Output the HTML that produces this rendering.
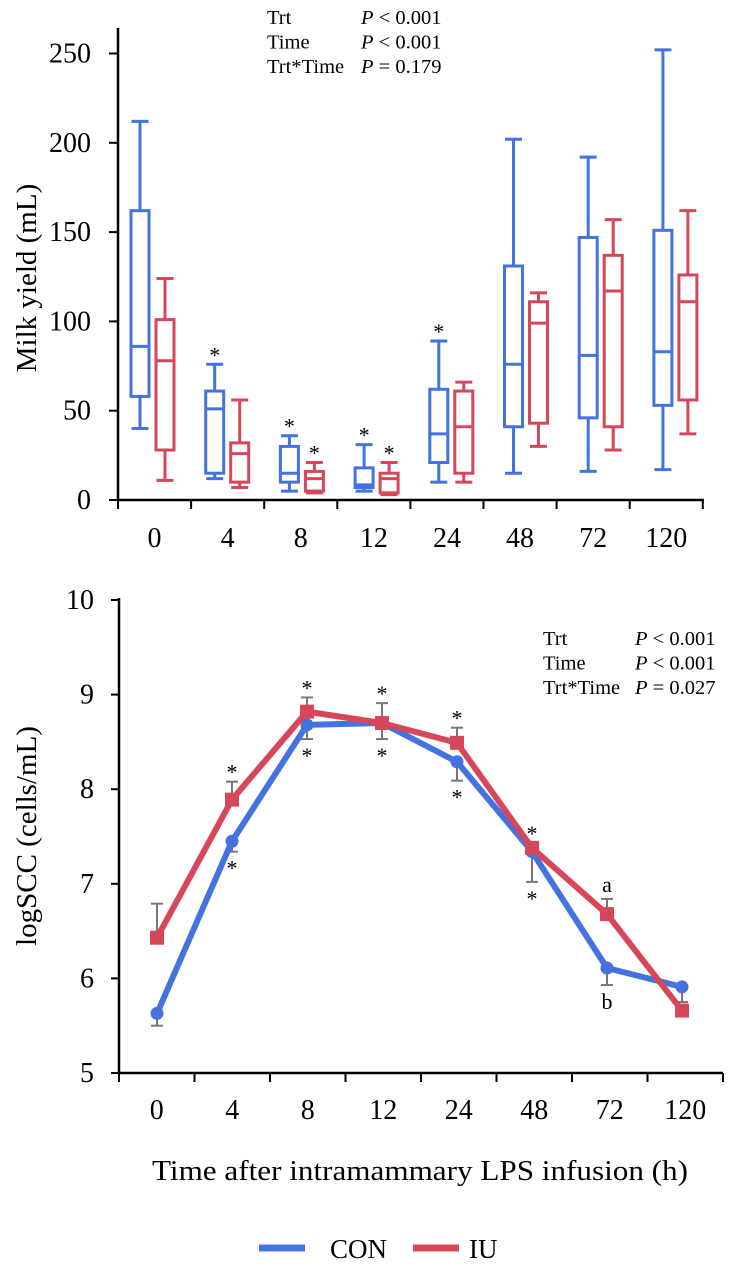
<!DOCTYPE html>
<html><head><meta charset="utf-8"><style>
html,body{margin:0;padding:0;background:#fff;}
svg{display:block;font-family:"Liberation Serif",serif;}
</style></head><body>
<svg id="chart" width="730" height="1267" viewBox="0 0 730 1267" xmlns="http://www.w3.org/2000/svg"></svg>
<script>
// ---- Top chart data (milk yield box plots) ----
const categories = ['0','4','8','12','24','48','72','120'];
const conMax = [212,76,36,31,89,202,192,252];
const conQ3  = [162,61,30,18,62,131,147,151];
const conMed = [86,51,15,8.5,37,76,81,83];
const conQ1  = [58,15,10,7,21,41,46,53];
const conMin = [40,12,5,5,10,15,16,17];
const iuMax = [124,56,21,21,66,116,157,162];
const iuQ3  = [101,32,16,15,61,111,137,126];
const iuMed = [78,26,12,12,41,99,117,111];
const iuQ1  = [28,10,5,4,15,43,41,56];
const iuMin = [11,7,4,3,10,30,28,37];
const conBoxStar = [false,true,true,true,true,false,false,false];
const iuBoxStar  = [false,false,true,true,false,false,false,false];
const yTicksTop = [0,50,100,150,200,250];
// ---- Bottom chart data (logSCC) ----
const conSCC = [5.63,7.45,8.68,8.70,8.29,7.34,6.11,5.91];
const iuSCC  = [6.43,7.89,8.82,8.70,8.49,7.38,6.68,5.66];
const conSem = [0.13,0.11,0.15,0.17,0.20,0.32,0.18,0.16];
const iuSem  = [0.36,0.19,0.15,0.21,0.16,0.05,0.16,0.05];
const conMarks = ['','*','*','*','*','*','b',''];
const iuMarks  = ['','*','*','*','*','*','a',''];
const yTicksBot = [5,6,7,8,9,10];

const BLUE = '#4472DE', RED = '#D6475A', NS = 'http://www.w3.org/2000/svg';
const svg = document.getElementById('chart');
function el(tag, attrs, parent, text){
  const e = document.createElementNS(NS, tag);
  for (const k in attrs) e.setAttribute(k, attrs[k]);
  if (text !== undefined) e.textContent = text;
  (parent || svg).appendChild(e);
  return e;
}
const yTop = v => 500 - v * 1.786;
const xTopTick = i => 118 + i * 73.1;
const xTopCat = i => 118 + (i + 0.5) * 73.1;
const xBox = i => 152.5 + i * 74.7;
const yBot = v => 600 + (10 - v) * 94.6;
const xBotTick = i => 119 + i * 75.5;
const xBotCat = i => 157 + i * 75;

// ===== Top chart =====
const topG = el('g', {});


let a = el('line', {x1:118, y1:28, x2:118, y2:500, stroke:'#000', 'stroke-width':2.5}, topG);
 
a = el('line', {x1:118, y1:500, x2:704, y2:500, stroke:'#000', 'stroke-width':2.5}, topG);
 
yTicksTop.forEach(v => {
  el('line', {x1:109, y1:yTop(v), x2:118, y2:yTop(v), stroke:'#000', 'stroke-width':2}, topG);
  const t = el('text', {x:91, y:yTop(v)+9, 'font-size':28, 'text-anchor':'end'}, topG, String(v));
   
});
for (let i = 0; i <= categories.length; i++) el('line', {x1:xTopTick(i), y1:500, x2:xTopTick(i), y2:509, stroke:'#000', 'stroke-width':2}, topG);
categories.forEach((c, i) => {
  const t = el('text', {x:xTopCat(i), y:547, 'font-size':28, 'text-anchor':'middle'}, topG, c);
   
});
function box(cx, mx, q3, md, q1, mn, color, name){
  const g = el('g', {stroke:color, 'stroke-width':3, fill:'none'}, topG);
   
  el('line', {x1:cx, y1:yTop(mx), x2:cx, y2:yTop(q3)}, g);
  el('line', {x1:cx, y1:yTop(q1), x2:cx, y2:yTop(mn)}, g);
  el('line', {x1:cx-8.5, y1:yTop(mx), x2:cx+8.5, y2:yTop(mx)}, g);
  el('line', {x1:cx-8.5, y1:yTop(mn), x2:cx+8.5, y2:yTop(mn)}, g);
  el('rect', {x:cx-9, y:yTop(q3), width:18, height:yTop(q1)-yTop(q3)}, g);
  el('line', {x1:cx-9, y1:yTop(md), x2:cx+9, y2:yTop(md)}, g);
}
categories.forEach((c, i) => {
  box(xBox(i)-12.5, conMax[i], conQ3[i], conMed[i], conQ1[i], conMin[i], BLUE, 'con-box-'+c);
  box(xBox(i)+12.5, iuMax[i], iuQ3[i], iuMed[i], iuQ1[i], iuMin[i], RED, 'iu-box-'+c);
  if (conBoxStar[i]) {
    const s = el('text', {x:xBox(i)-12.5, y:yTop(conMax[i])-2, 'font-size':22, 'text-anchor':'middle'}, topG, '*');
     
  }
  if (iuBoxStar[i]) {
    const s = el('text', {x:xBox(i)+12.5, y:yTop(iuMax[i])-2, 'font-size':22, 'text-anchor':'middle'}, topG, '*');
     
  }
});
let yt = el('text', {transform:'translate(36,278) rotate(-90)', 'font-size':29, 'text-anchor':'middle'}, topG, 'Milk yield (mL)');
 
function stats(x, px, y0, rows, name){
  const g = el('g', {'font-size':20.5}, svg);
   
  rows.forEach((r, k) => {
    el('text', {x:x, y:y0 + k*24.5}, g, r[0]);
    const t = el('text', {x:px, y:y0 + k*24.5}, g);
    el('tspan', {'font-style':'italic'}, t, 'P');
    el('tspan', {}, t, r[1]);
  });
}
stats(267, 361, 24, [['Trt',' < 0.001'],['Time',' < 0.001'],['Trt*Time',' = 0.179']], 'stats-table-top');

// ===== Bottom chart =====
const botG = el('g', {});


a = el('line', {x1:119, y1:598, x2:119, y2:1073, stroke:'#000', 'stroke-width':2.5}, botG);
 
a = el('line', {x1:119, y1:1073, x2:723, y2:1073, stroke:'#000', 'stroke-width':2.5}, botG);
 
yTicksBot.forEach(v => {
  el('line', {x1:111, y1:yBot(v), x2:119, y2:yBot(v), stroke:'#000', 'stroke-width':2}, botG);
  const t = el('text', {x:94, y:yBot(v)+9, 'font-size':28, 'text-anchor':'end'}, botG, String(v));
   
});
for (let i = 0; i <= categories.length; i++) el('line', {x1:xBotTick(i), y1:1073, x2:xBotTick(i), y2:1082, stroke:'#000', 'stroke-width':2}, botG);
categories.forEach((c, i) => {
  const t = el('text', {x:xBotTick(i)+37.75, y:1119, 'font-size':28, 'text-anchor':'middle'}, botG, c);
   
});
categories.forEach((c, i) => {
  const g = el('g', {stroke:'#777', 'stroke-width':2}, botG);
   
  const x = xBotCat(i);
  const yc = yBot(conSCC[i]), yc2 = yBot(conSCC[i]-conSem[i]);
  el('line', {x1:x, y1:yc, x2:x, y2:yc2}, g);
  el('line', {x1:x-6, y1:yc2, x2:x+6, y2:yc2}, g);
  const yi = yBot(iuSCC[i]), yi2 = yBot(iuSCC[i]+iuSem[i]);
  el('line', {x1:x, y1:yi, x2:x, y2:yi2}, g);
  el('line', {x1:x-6, y1:yi2, x2:x+6, y2:yi2}, g);
});
function series(vals, color, name, marker){
  const g = el('g', {}, botG);
   
  const pts = vals.map((v, i) => xBotCat(i) + ',' + yBot(v)).join(' ');
  el('polyline', {points:pts, fill:'none', stroke:color, 'stroke-width':6, 'stroke-linejoin':'round'}, g);
  vals.forEach((v, i) => {
    let m;
    if (marker === 'circle') m = el('circle', {cx:xBotCat(i), cy:yBot(v), r:6.5, fill:color}, g);
    else m = el('rect', {x:xBotCat(i)-7, y:yBot(v)-7, width:14, height:14, fill:color}, g);
     
  });
}
series(conSCC, BLUE, 'con-line', 'circle');
series(iuSCC, RED, 'iu-line', 'square');
categories.forEach((c, i) => {
  const x = xBotCat(i);
  if (iuMarks[i]) {
    const t2 = yBot(iuSCC[i]+iuSem[i]);
    const yy = iuMarks[i] === '*' ? t2 - 2 : t2 - 7;
    const t = el('text', {x:x, y:yy, 'font-size':22, 'text-anchor':'middle'}, botG, iuMarks[i]);
     
  }
  if (conMarks[i]) {
    const b2 = yBot(conSCC[i]-conSem[i]);
    const yy = b2 + 24;
    const t = el('text', {x:x, y:yy, 'font-size':22, 'text-anchor':'middle'}, botG, conMarks[i]);
     
  }
});
yt = el('text', {transform:'translate(36,836) rotate(-90)', 'font-size':29, 'text-anchor':'middle'}, botG, 'logSCC (cells/mL)');
 
stats(543, 635, 645, [['Trt',' < 0.001'],['Time',' < 0.001'],['Trt*Time',' = 0.027']], 'stats-table-bottom');
const xt = el('text', {x:152, y:1180, 'font-size':28, textLength:536, lengthAdjust:'spacingAndGlyphs'}, svg, 'Time after intramammary LPS infusion (h)');
 

const lg = el('g', {}, svg);
 
let le = el('g', {}, lg);
 
el('line', {x1:259, y1:1248, x2:305, y2:1248, stroke:BLUE, 'stroke-width':7}, le);
el('text', {x:330, y:1258, 'font-size':27}, le, 'CON');
le = el('g', {}, lg);
 
el('line', {x1:413, y1:1248, x2:459, y2:1248, stroke:RED, 'stroke-width':7}, le);
el('text', {x:469, y:1258, 'font-size':27}, le, 'IU');
</script>
</body></html>
